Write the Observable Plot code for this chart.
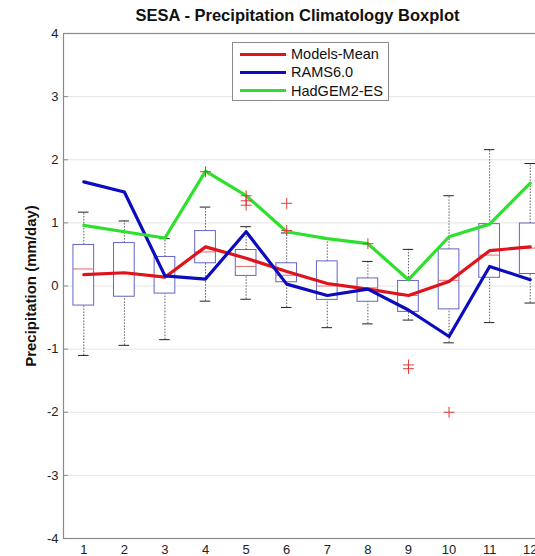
<!DOCTYPE html>
<html>
<head>
<meta charset="utf-8">
<script src="https://cdn.jsdelivr.net/npm/d3@7"></script>
<script src="https://cdn.jsdelivr.net/npm/@observablehq/plot@0.6"></script>
<style>
  html, body { margin: 0; padding: 0; overflow: hidden; background: #fff; }
  #wrap { position: relative; width: 550px; height: 556px; font-family: "Liberation Sans", Arial, sans-serif; }
  #title { position: absolute; left: 62px; width: 471px; top: 6px; text-align: center; font-weight: bold; font-size: 16.5px; color: #111; }
  #ylabel { position: absolute; left: 30px; top: 286px; transform: translate(-50%, -50%) rotate(-90deg); white-space: nowrap; font-weight: bold; font-size: 15px; color: #111; }
  #legend { position: absolute; left: 232px; top: 42px; width: 157px; height: 59px; border: 1px solid #8a8a8a; background: #fff; box-sizing: border-box; padding-top: 2px; }
  #legend .row { display: flex; align-items: center; height: 18.3px; font-size: 14.5px; line-height: 16px; color: #111; }
  #legend .sw { width: 46px; height: 3px; margin-left: 7px; margin-right: 5px; }
  svg { position: absolute; left: 0; top: 0; overflow: visible; }
</style>
</head>
<body>
<div id="wrap">
  <div id="title">SESA - Precipitation Climatology Boxplot</div>
  <div id="ylabel">Precipitation (mm/day)</div>
</div>
<script>
// Monthly box statistics (mm/day)
const months   = [1, 2, 3, 4, 5, 6, 7, 8, 9, 10, 11, 12];
const q1       = [-0.31, -0.17, -0.12, 0.36, 0.16, 0.06, -0.22, -0.25, -0.41, -0.37, 0.13, 0.19];
const median   = [0.27, 0.20, 0.15, 0.54, 0.31, 0.17, 0.00, -0.03, -0.15, 0.09, 0.49, 0.60];
const q3       = [0.65, 0.68, 0.46, 0.87, 0.57, 0.36, 0.39, 0.12, 0.08, 0.58, 0.98, 0.99];
const whiskLo  = [-1.10, -0.94, -0.85, -0.24, -0.21, -0.34, -0.66, -0.60, -0.54, -0.90, -0.58, -0.27];
const whiskHi  = [1.17, 1.03, 0.75, 1.25, 0.94, 0.84, 0.75, 0.39, 0.58, 1.43, 2.16, 1.94];

// Outliers
const outMonth = [4, 5, 5, 5, 6, 6, 8, 9, 9, 10];
const outValue = [1.81, 1.43, 1.35, 1.28, 1.31, 0.88, 0.67, -1.25, -1.31, -2.00];

// Model series
const modelsMean = [0.18, 0.21, 0.14, 0.62, 0.44, 0.23, 0.04, -0.05, -0.15, 0.07, 0.56, 0.62];
const rams60     = [1.65, 1.49, 0.16, 0.11, 0.86, 0.03, -0.15, -0.05, -0.38, -0.80, 0.31, 0.10];
const hadgem2    = [0.96, 0.86, 0.76, 1.82, 1.43, 0.86, 0.75, 0.67, 0.10, 0.78, 0.98, 1.63];

const seriesNames  = ["Models-Mean", "RAMS6.0", "HadGEM2-ES"];
const seriesColors = ["#e0131a", "#0b0bbf", "#2ee02e"];
const yTicks = [-4, -3, -2, -1, 0, 1, 2, 3, 4];

const boxes = months.map((m, i) => ({m, q1: q1[i], med: median[i], q3: q3[i], lo: whiskLo[i], hi: whiskHi[i]}));
const outliers = outMonth.map((m, i) => ({m, v: outValue[i]}));
const series = [modelsMean, rams60, hadgem2].flatMap((vals, s) =>
  vals.map((v, i) => ({name: seriesNames[s], m: months[i], v})));

const halfBox = 0.255, halfCap = 0.13;
const plotWidth = 550, mLeft = 63, mRight = 0;

const chart = Plot.plot({
  width: plotWidth,
  height: 556,
  marginLeft: mLeft,
  marginRight: mRight,
  marginTop: 33,
  marginBottom: 18,
  style: {fontFamily: "Liberation Sans, Arial, sans-serif", fontSize: "13px", color: "#222", background: "transparent"},
  x: {domain: [0.5, 12.5]},
  y: {domain: [-4, 4]},
  color: {domain: seriesNames, range: seriesColors},
  marks: [
    Plot.gridY(yTicks, {stroke: "#e4e4e4", strokeOpacity: 1}),
    // whiskers
    Plot.ruleX(boxes, {x: "m", y1: "q3", y2: "hi", stroke: "#333", strokeWidth: 0.8, strokeDasharray: "1.5,1.5"}),
    Plot.ruleX(boxes, {x: "m", y1: "lo", y2: "q1", stroke: "#333", strokeWidth: 0.8, strokeDasharray: "1.5,1.5"}),
    Plot.ruleY(boxes, {y: "hi", x1: d => d.m - halfCap, x2: d => d.m + halfCap, stroke: "#222", strokeWidth: 1}),
    Plot.ruleY(boxes, {y: "lo", x1: d => d.m - halfCap, x2: d => d.m + halfCap, stroke: "#222", strokeWidth: 1}),
    // boxes
    Plot.rect(boxes, {x1: d => d.m - halfBox, x2: d => d.m + halfBox, y1: "q1", y2: "q3", fill: "white", stroke: "#6464c8", strokeWidth: 1}),
    Plot.ruleY(boxes, {y: "med", x1: d => d.m - halfBox, x2: d => d.m + halfBox, stroke: "#e46a6a", strokeWidth: 1}),
    // series lines
    Plot.line(series, {x: "m", y: "v", z: "name", stroke: "name", strokeWidth: 3.2}),
    // outliers
    Plot.dot(outliers, {x: "m", y: "v", symbol: "plus", r: 3.6, stroke: "#e03a3a", strokeWidth: 1}),
    Plot.frame({stroke: "#8a8a8a", strokeWidth: 1.2}),
    // short inward ticks on the left axis
    Plot.tickY(yTicks, {y: d => d, insetRight: plotWidth - mLeft - mRight - 5, stroke: "#8a8a8a", strokeWidth: 1}),
    Plot.axisY(yTicks, {tickSize: 0, tickPadding: 5, tickFormat: d => String(d), label: null, fill: "#222"}),
    Plot.axisX(months, {tickSize: 0, tickPadding: 6, tickFormat: d => String(d), label: null, fill: "#222"})
  ]
});

const wrap = document.getElementById("wrap");
wrap.insertBefore(chart, wrap.firstChild);

// legend
const legend = document.createElement("div");
legend.id = "legend";
seriesNames.forEach((name, i) => {
  const row = document.createElement("div");
  row.className = "row";
  const sw = document.createElement("div");
  sw.className = "sw";
  sw.style.background = seriesColors[i];
  const label = document.createElement("span");
  label.textContent = name;
  row.appendChild(sw);
  row.appendChild(label);
  legend.appendChild(row);
});
wrap.appendChild(legend);
</script>
</body>
</html>
